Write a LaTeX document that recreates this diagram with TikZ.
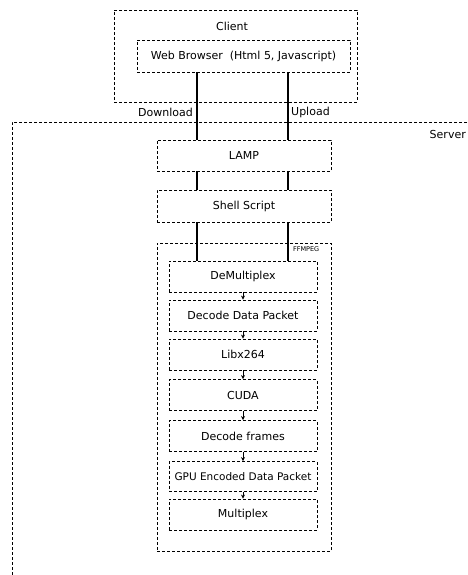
\documentclass[tikz,border=0pt]{standalone}
\usepackage{fontspec}
\setmainfont{DejaVu Sans}
\usetikzlibrary{arrows.meta}
\begin{document}
\begin{tikzpicture}[x=1pt,y=-1pt,
  box/.style={draw, densely dashed, line width=0.8pt, inner sep=0pt, font=\fontsize{11}{12}\selectfont},
  frame/.style={draw, densely dashed, line width=0.8pt, inner sep=0pt},
  lbl/.style={inner sep=0pt, font=\fontsize{11}{12}\selectfont},
  conn/.style={line width=1.6pt},
  flow/.style={line width=0.9pt, -{Stealth[length=4pt,width=4pt]}}]
\useasboundingbox (0,0) rectangle (468,575);
\clip (0,0) rectangle (468,575);
% frames
\node[frame, minimum width=243pt, minimum height=92pt] (client) at (235.5,56) {};
\node[frame, minimum width=470pt, minimum height=470pt] (server) at (247,357) {};
\node[lbl] (clientlbl) at (232,26) {Client};
\node[lbl, anchor=east] (serverlbl) at (466,134) {Server};
% boxes
\node[box, minimum width=213pt, minimum height=32pt] (browser) at (243.5,56) {Web Browser\ \ (Html 5, Javascript)};
\node[box, minimum width=174pt, minimum height=31pt] (lamp) at (244,155.5) {LAMP};
\node[box, minimum width=174pt, minimum height=32pt] (shell) at (244,206) {Shell Script};
\node[frame, minimum width=174pt, minimum height=308pt] (ffmpeg) at (244,397) {};
\node[inner sep=0pt, font=\fontsize{6.5}{7}\selectfont, anchor=north east] (fflbl) at ([xshift=-12pt,yshift=-4pt]ffmpeg.north east) {FFMPEG};
\node[box, minimum width=148pt, minimum height=31pt] (demux) at (243,276.5) {DeMultiplex};
\node[box, minimum width=148pt, minimum height=31pt] (ddp) at (243,315.5) {Decode Data Packet};
\node[box, minimum width=148pt, minimum height=31pt] (libx) at (243,354.5) {Libx264};
\node[box, minimum width=148pt, minimum height=31pt] (cuda) at (243,395) {CUDA};
\node[box, minimum width=148pt, minimum height=31pt] (dframes) at (243,436) {Decode frames};
\node[box, minimum width=148pt, minimum height=30pt, font=\fontsize{10.5}{12}\selectfont] (gpu) at (243,476.5) {GPU Encoded Data Packet};
\node[box, minimum width=148pt, minimum height=31pt] (mux) at (243,514.5) {Multiplex};
% connector columns
\coordinate (dl) at (197,0);
\coordinate (ul) at (288,0);
\draw[conn] (browser.south -| dl) -- (lamp.north -| dl);
\draw[conn] (browser.south -| ul) -- (lamp.north -| ul);
\draw[conn] (lamp.south -| dl) -- (shell.north -| dl);
\draw[conn] (lamp.south -| ul) -- (shell.north -| ul);
\draw[conn] (shell.south -| dl) -- (demux.north -| dl);
\draw[conn] (shell.south -| ul) -- (demux.north -| ul);
\node[lbl, anchor=east] (dltxt) at (193,112) {Download};
\node[lbl, anchor=west] (ultxt) at (291,112) {Upload};
% flow arrows
\draw[flow] (demux.south) -- (ddp.north);
\draw[flow] (ddp.south) -- (libx.north);
\draw[flow] (libx.south) -- (cuda.north);
\draw[flow] (cuda.south) -- (dframes.north);
\draw[flow] (dframes.south) -- (gpu.north);
\draw[flow] (gpu.south) -- (mux.north);
\end{tikzpicture}
\end{document}
